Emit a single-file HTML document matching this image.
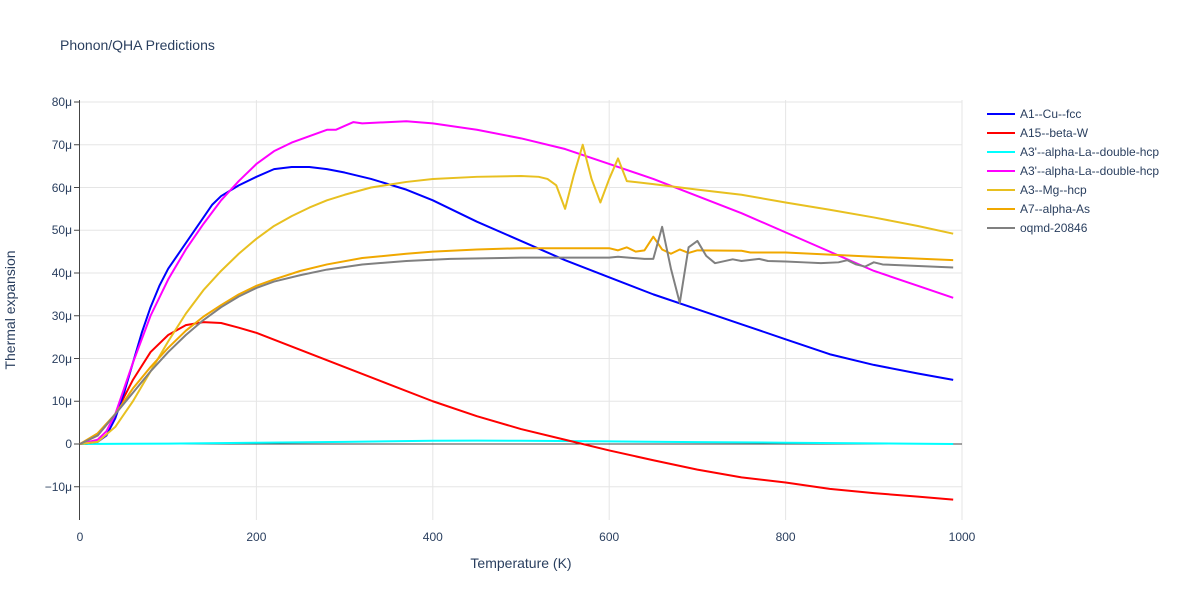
<!DOCTYPE html>
<html><head><meta charset="utf-8"><style>
body{margin:0;background:#fff}
svg text{font-family:"Liberation Sans",sans-serif;fill:#2a3f5f}
</style></head><body>
<svg width="1200" height="600" xmlns="http://www.w3.org/2000/svg">
<rect width="1200" height="600" fill="#fff"/>
<text x="60" y="50" font-size="14">Phonon/QHA Predictions</text>
<g stroke="#e5e5e5" stroke-width="1">
<line x1="256.4" y1="100" x2="256.4" y2="520"/><line x1="432.8" y1="100" x2="432.8" y2="520"/>
<line x1="609.2" y1="100" x2="609.2" y2="520"/><line x1="785.6" y1="100" x2="785.6" y2="520"/>
<line x1="962" y1="100" x2="962" y2="520"/>
<line x1="80" y1="102" x2="962" y2="102"/><line x1="80" y1="144.75" x2="962" y2="144.75"/>
<line x1="80" y1="187.5" x2="962" y2="187.5"/><line x1="80" y1="230.25" x2="962" y2="230.25"/>
<line x1="80" y1="273" x2="962" y2="273"/><line x1="80" y1="315.75" x2="962" y2="315.75"/>
<line x1="80" y1="358.5" x2="962" y2="358.5"/><line x1="80" y1="401.25" x2="962" y2="401.25"/>
<line x1="80" y1="486.75" x2="962" y2="486.75"/>
</g>
<line x1="80" y1="444" x2="962" y2="444" stroke="#444" stroke-width="1"/>
<line x1="79.5" y1="100" x2="79.5" y2="520" stroke="#444" stroke-width="1"/>
<g stroke="#444">
<line x1="74" y1="102" x2="80" y2="102"/><line x1="74" y1="144.75" x2="80" y2="144.75"/><line x1="74" y1="187.5" x2="80" y2="187.5"/><line x1="74" y1="230.25" x2="80" y2="230.25"/><line x1="74" y1="273" x2="80" y2="273"/><line x1="74" y1="315.75" x2="80" y2="315.75"/><line x1="74" y1="358.5" x2="80" y2="358.5"/><line x1="74" y1="401.25" x2="80" y2="401.25"/><line x1="74" y1="444" x2="80" y2="444"/><line x1="74" y1="486.75" x2="80" y2="486.75"/>
</g>
<g font-size="12" text-anchor="end">
<text x="72" y="106">80μ</text><text x="72" y="149">70μ</text><text x="72" y="192">60μ</text><text x="72" y="234">50μ</text><text x="72" y="277">40μ</text><text x="72" y="320">30μ</text><text x="72" y="363">20μ</text><text x="72" y="405">10μ</text><text x="72" y="448">0</text><text x="72" y="491">−10μ</text>
</g>
<g font-size="12" text-anchor="middle">
<text x="80" y="541">0</text><text x="256.4" y="541">200</text><text x="432.8" y="541">400</text><text x="609.2" y="541">600</text><text x="785.6" y="541">800</text><text x="962" y="541">1000</text>
</g>
<text x="521" y="568" font-size="14" text-anchor="middle">Temperature (K)</text>
<text transform="translate(15,310) rotate(-90)" font-size="14" text-anchor="middle">Thermal expansion</text>
<g transform="translate(80,444) scale(0.882,-4.275)" fill="none" stroke-width="2" stroke-linejoin="round">
<polyline vector-effect="non-scaling-stroke" stroke="#00ffff" points="0,0 100,0.1 200,0.3 300,0.5 400,0.75 450,0.8 500,0.75 600,0.6 700,0.45 800,0.3 900,0.15 990,0"/>
<polyline vector-effect="non-scaling-stroke" stroke="#ff0000" points="0,0 20,2 40,7 60,15 80,21.5 100,25.5 120,27.8 140,28.5 160,28.3 180,27.2 200,26 250,22 300,18 350,14 400,10 450,6.5 500,3.5 550,1 600,-1.5 650,-3.8 700,-6 750,-7.8 800,-9 850,-10.5 900,-11.5 950,-12.3 990,-13"/>
<polyline vector-effect="non-scaling-stroke" stroke="#0000ff" points="0,0 20,0.5 30,2 40,6 50,12 60,19 70,26 80,32 90,37 100,41 120,47 140,53 150,56 160,58 180,60.5 200,62.5 220,64.3 240,64.8 260,64.8 280,64.3 300,63.5 330,62 370,59.5 400,57 450,52 500,47.5 550,43 600,39 650,35 700,31.5 750,28 800,24.5 850,21 900,18.5 950,16.5 990,15"/>
<polyline vector-effect="non-scaling-stroke" stroke="#ff00ff" points="0,0 20,1 30,3 40,7 50,13 60,19 80,30 100,38.5 120,45.5 140,51.5 160,57 180,61.5 200,65.5 220,68.5 240,70.5 260,72 280,73.5 290,73.5 310,75.3 320,75 370,75.5 400,75 450,73.5 500,71.5 550,69 600,65.5 650,62 700,58 750,54 800,49.5 850,45 900,40.5 950,37 990,34.2"/>
<polyline vector-effect="non-scaling-stroke" stroke="#e8c020" points="0,0 20,0.5 40,4 60,10 80,17 100,24 120,30.5 140,36 160,40.5 180,44.5 200,48 220,51 240,53.3 260,55.3 280,57 300,58.3 330,60 370,61.3 400,62 450,62.5 500,62.7 520,62.5 530,62 540,60.5 550,55 560,63 570,70 580,62 590,56.5 600,62 610,66.8 620,61.5 650,60.8 700,59.5 750,58.3 800,56.5 850,54.8 900,53 950,51 990,49.2"/>
<polyline vector-effect="non-scaling-stroke" stroke="#f0a800" points="0,0 20,2.5 40,7 60,13 80,18 100,22.5 120,26.5 140,29.8 160,32.5 180,35 200,37 220,38.5 250,40.5 280,42 320,43.5 370,44.5 400,45 450,45.5 500,45.8 600,45.8 610,45.3 620,46 630,45 640,45.3 650,48.5 660,45.5 670,44.5 680,45.5 690,44.7 700,45.3 750,45.2 760,44.8 800,44.8 850,44.3 900,43.8 990,43"/>
<polyline vector-effect="non-scaling-stroke" stroke="#808080" points="0,0 20,2 40,7 60,12 80,17 100,21.5 120,25.5 140,29 160,32 180,34.5 200,36.5 220,38 250,39.5 280,40.8 320,42 370,42.8 420,43.3 500,43.6 600,43.6 610,43.8 640,43.3 650,43.3 660,50.8 670,41 680,33 690,46 700,47.5 710,44 720,42.3 740,43.2 750,42.8 770,43.3 780,42.8 800,42.7 820,42.5 840,42.3 860,42.5 870,43 880,42 890,41.5 900,42.5 910,42 990,41.3"/>
</g>
<g stroke-width="2" font-size="12">
<line x1="987" y1="114" x2="1015" y2="114" stroke="#0000ff"/><text x="1020" y="118">A1--Cu--fcc</text>
<line x1="987" y1="133" x2="1015" y2="133" stroke="#ff0000"/><text x="1020" y="137">A15--beta-W</text>
<line x1="987" y1="152" x2="1015" y2="152" stroke="#00ffff"/><text x="1020" y="156">A3'--alpha-La--double-hcp</text>
<line x1="987" y1="171" x2="1015" y2="171" stroke="#ff00ff"/><text x="1020" y="175">A3'--alpha-La--double-hcp</text>
<line x1="987" y1="190" x2="1015" y2="190" stroke="#e8c020"/><text x="1020" y="194">A3--Mg--hcp</text>
<line x1="987" y1="209" x2="1015" y2="209" stroke="#f0a800"/><text x="1020" y="213">A7--alpha-As</text>
<line x1="987" y1="228" x2="1015" y2="228" stroke="#808080"/><text x="1020" y="232">oqmd-20846</text>
</g>
</svg>
</body></html>
